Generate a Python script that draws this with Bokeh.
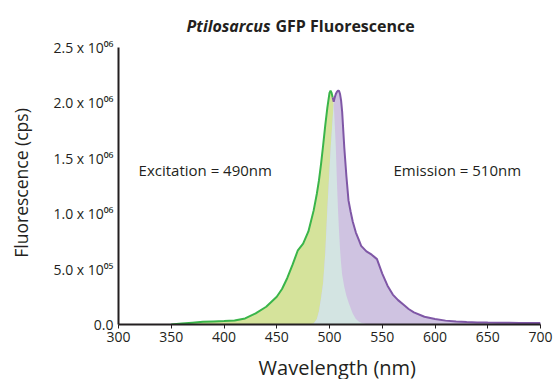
from bokeh.plotting import figure
from bokeh.models import Label, FixedTicker, Range1d
from bokeh.embed import file_html
from bokeh.resources import INLINE
import numpy as np

# ---- data (wavelength in nm, intensities in units of 1e6 cps) ----
wavelength = [350, 360, 370, 380, 390, 400, 410, 420, 430, 440, 450, 455, 460, 465, 470,
              475, 480, 485, 488, 490, 492, 494, 496, 498, 500, 501, 502, 503, 504, 505,
              506, 507, 508, 509, 510, 511, 512, 514, 516, 518, 520, 522, 525, 528, 530,
              535, 540, 545, 550, 555, 560, 565, 570, 575, 580, 590, 600, 610, 620, 630,
              640, 650, 660, 670, 680, 690, 700]
excitation = [0.0, 0.008, 0.016, 0.024, 0.028, 0.031, 0.036, 0.055, 0.10, 0.16, 0.25, 0.32, 0.42, 0.54, 0.67,
              0.73, 0.84, 1.03, 1.18, 1.30, 1.45, 1.62, 1.80, 1.96, 2.09, 2.11, 2.09, 2.05, 2.00, 1.80,
              1.60, 1.30, 1.05, 0.85, 0.68, 0.55, 0.45, 0.34, 0.26, 0.20, 0.15, 0.10, 0.05, 0.025, 0.015,
              0.005, 0.0, 0.0, 0.0, 0.0, 0.0, 0.0, 0.0, 0.0, 0.0, 0.0, 0.0, 0.0, 0.0, 0.0,
              0.0, 0.0, 0.0, 0.0, 0.0, 0.0, 0.0]
emission = [0.0, 0.0, 0.0, 0.0, 0.0, 0.0, 0.0, 0.0, 0.0, 0.0, 0.0, 0.0, 0.0, 0.0, 0.0,
            0.0, 0.0, 0.01, 0.05, 0.12, 0.24, 0.38, 0.65, 1.05, 1.40, 1.58, 1.72, 1.86, 2.01, 2.05,
            2.08, 2.10, 2.11, 2.11, 2.08, 2.02, 1.92, 1.60, 1.34, 1.12, 1.02, 0.93, 0.83, 0.76, 0.71,
            0.66, 0.63, 0.59, 0.46, 0.35, 0.27, 0.22, 0.18, 0.14, 0.11, 0.07, 0.05, 0.035, 0.027, 0.022,
            0.019, 0.017, 0.016, 0.015, 0.014, 0.013, 0.013]

x_ticks = [300, 350, 400, 450, 500, 550, 600, 650, 700]
y_ticks = [0, 500000, 1000000, 1500000, 2000000, 2500000]
y_tick_labels = ["0.0", "5.0 x 10\u2070\u2075", "1.0 x 10\u2070\u2076", "1.5 x 10\u2070\u2076",
                 "2.0 x 10\u2070\u2076", "2.5 x 10\u2070\u2076"]

wl = np.array(wavelength, dtype=float)
ex = np.array(excitation) * 1e6
em = np.array(emission) * 1e6
overlap = np.minimum(ex, em)
envelope = np.maximum(ex, em)
k = int(np.where(ex >= em)[0].max())

FONT = "Open Sans"
DARK = "#231f20"

# frame spans the full height above the x axis; the y axis line is bounded to 0..2.5e6
Y_TOP = 2.5e6 * 324.0 / 277.0

p = figure(width=553, height=391, x_range=Range1d(300, 700), y_range=Range1d(0, Y_TOP),
           output_backend="svg", toolbar_location=None,
           min_border_left=118, min_border_top=0, min_border_right=13, min_border_bottom=67)
p.outline_line_color = None
p.grid.visible = False

p.varea(x=wl, y1=0, y2=ex, fill_color="#d5e39b")
p.varea(x=wl, y1=0, y2=em, fill_color="#cfc3e1")
p.varea(x=wl, y1=0, y2=overlap, fill_color="#d3e4e2")
p.line(x=wl[:k + 1], y=envelope[:k + 1], line_color="#3ab54a", line_width=2)
p.line(x=wl[k:], y=envelope[k:], line_color="#7f57a6", line_width=2)

for ax in (p.xaxis[0], p.yaxis[0]):
    ax.axis_line_color = DARK
    ax.axis_line_width = 2
    ax.major_tick_line_color = DARK
    ax.major_tick_line_width = 1
    ax.minor_tick_line_color = None
    ax.major_label_text_font = FONT
    ax.major_label_text_color = DARK
    ax.axis_label_text_font = FONT
    ax.axis_label_text_font_style = "normal"
    ax.axis_label_text_color = DARK

p.xaxis.ticker = FixedTicker(ticks=x_ticks)
p.xaxis.major_tick_out = 4
p.xaxis.major_tick_in = 0
p.xaxis.major_label_standoff = 3
p.xaxis.major_label_text_font_size = "14px"
p.xaxis.axis_label = "\u00a0\u00a0\u00a0Wavelength (nm)"
p.xaxis.axis_label_text_font_size = "20px"
p.xaxis.axis_label_standoff = 9

p.yaxis.ticker = FixedTicker(ticks=y_ticks)
p.yaxis.bounds = (0, 2.5e6)
p.yaxis.major_label_overrides = {float(t): s for t, s in zip(y_ticks, y_tick_labels)}
p.yaxis.major_tick_out = 0
p.yaxis.major_tick_in = 0
p.yaxis.major_label_standoff = 5
p.yaxis.major_label_text_font_size = "14px"
p.yaxis.axis_label = "Fluorescence (cps)" + "\u00a0" * 9
p.yaxis.axis_label_text_font_size = "17.5px"
p.yaxis.axis_label_standoff = 17

p.add_layout(Label(x=319, y=1.39e6, text="Excitation = 490nm", text_baseline="middle",
                   text_font=FONT, text_font_size="15px", text_color=DARK))
p.add_layout(Label(x=560.7, y=1.39e6, text="Emission = 510nm", text_baseline="middle",
                   text_font=FONT, text_font_size="15px", text_color=DARK))

p.add_layout(Label(x=444.1, y=2.69e6, text="Ptilosarcus", text_align="right",
                   text_baseline="middle", text_font=FONT, text_font_size="16px",
                   text_font_style="bold italic", text_color=DARK))
p.add_layout(Label(x=448.8, y=2.69e6, text="GFP Fluorescence", text_align="left",
                   text_baseline="middle", text_font=FONT, text_font_size="16px",
                   text_font_style="bold", text_color=DARK))

open("out.html", "w").write(file_html(p, INLINE))
